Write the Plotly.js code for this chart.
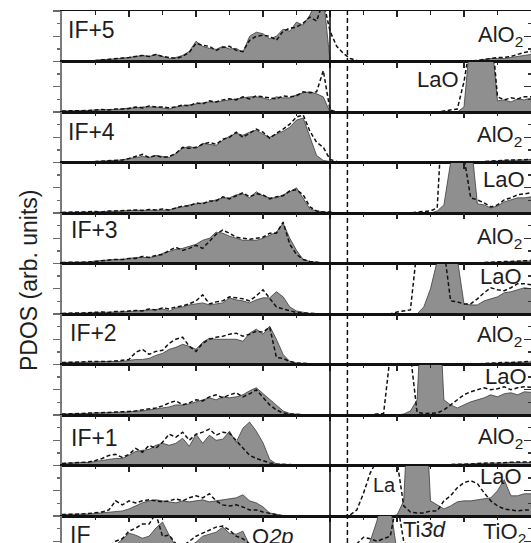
<!DOCTYPE html>
<html>
<head>
<meta charset="utf-8">
<script src="https://cdn.plot.ly/plotly-3.0.1.min.js"></script>
<style>
html,body{margin:0;padding:0;background:#fff;overflow:hidden}
#chart{width:531px;height:543px}
</style>
</head>
<body>
<div id="chart"></div>
<script>
// Energy grid in eV relative to the Fermi level
const energy = [-8.0,-7.8,-7.6,-7.4,-7.2,-7.0,-6.8,-6.6,-6.4,-6.2,
  -6.0,-5.8,-5.6,-5.4,-5.2,-5.0,-4.8,-4.6,-4.4,-4.2,
  -4.0,-3.8,-3.6,-3.4,-3.2,-3.0,-2.8,-2.6,-2.4,-2.2,
  -2.0,-1.8,-1.6,-1.4,-1.2,-1.0,-0.8,-0.6,-0.4,-0.2,
  0.0,0.2,0.4,0.6,0.8,1.0,1.2,1.4,1.6,1.8,
  2.0,2.2,2.4,2.6,2.8,3.0,3.2,3.4,3.6,3.8,
  4.0,4.2,4.4,4.6,4.8,5.0,5.2,5.4,5.6,5.8,
  6.0];

// Layer-resolved PDOS (arb. units): shaded = interface, dashed = reference
const fillA5 = [0,0,0,0,0,0.02,0.04,0.04,0.05,0.06,
  0.08,0.1,0.12,0.1,0.14,0.1,0.06,0.08,0.12,0.2,
  0.4,0.3,0.26,0.24,0.3,0.25,0.26,0.18,0.5,0.58,
  0.55,0.45,0.5,0.64,0.6,0.78,0.72,0.92,1.2,1.3,
  0.02,0,0,0,0,0,0,0,0,0,
  0,0,0,0,0,0,0,0,0,0,
  0,0.01,0.02,0.04,0.06,0.06,0.06,0.08,0.1,0.12,
  0.14];
const dashA5 = [0,0,0,0,0,0.02,0.03,0.05,0.05,0.06,
  0.08,0.1,0.12,0.1,0.14,0.1,0.08,0.06,0.1,0.18,
  0.36,0.32,0.3,0.22,0.28,0.3,0.22,0.2,0.42,0.5,
  0.52,0.5,0.42,0.6,0.66,0.68,0.76,0.88,0.8,1.2,
  0.6,0.3,0.16,0.06,0.02,0,0,0,0,0,
  0,0,0,0,0,0,0,0,0,0,
  0,0.01,0.02,0.04,0.06,0.08,0.08,0.1,0.14,0.18,
  0.2];

const fillL5 = [0.02,0.02,0.02,0.03,0.03,0.04,0.04,0.05,0.05,0.06,
  0.08,0.08,0.1,0.1,0.1,0.08,0.06,0.1,0.12,0.14,
  0.16,0.18,0.2,0.2,0.22,0.24,0.26,0.28,0.3,0.3,
  0.28,0.24,0.3,0.28,0.28,0.34,0.38,0.4,0.36,0.3,
  0,0,0,0,0,0,0,0,0,0,
  0,0,0,0,0,0,0,0,0,0,
  0.1,1.6,3,3,1.6,0.22,0.24,0.2,0.26,0.24,
  0.28];
const dashL5 = [0.02,0.02,0.03,0.02,0.03,0.04,0.05,0.04,0.06,0.06,
  0.07,0.1,0.08,0.12,0.1,0.1,0.08,0.1,0.14,0.12,
  0.18,0.16,0.22,0.2,0.24,0.26,0.24,0.3,0.26,0.32,
  0.3,0.28,0.26,0.32,0.3,0.32,0.4,0.38,0.4,0.82,
  0.04,0,0,0,0,0,0,0,0,0,
  0,0,0,0,0,0,0,0.02,0.04,0.06,
  0.6,1.6,3,3,1.8,0.3,0.24,0.28,0.26,0.3,
  0.3];

const fillA4 = [0,0,0,0,0,0.02,0.03,0.04,0.04,0.05,
  0.08,0.1,0.12,0.1,0.14,0.12,0.1,0.18,0.28,0.32,
  0.28,0.38,0.36,0.34,0.44,0.52,0.58,0.54,0.6,0.64,
  0.56,0.5,0.56,0.62,0.7,0.84,0.88,0.5,0.14,0.04,
  0.02,0,0,0,0,0,0,0,0,0,
  0,0,0,0,0,0,0,0,0,0,
  0,0,0,0.02,0.02,0.03,0.04,0.04,0.05,0.05,
  0.06];
const dashA4 = [0,0,0,0,0,0.02,0.03,0.03,0.05,0.05,
  0.08,0.12,0.16,0.1,0.14,0.1,0.12,0.18,0.3,0.28,
  0.3,0.36,0.4,0.36,0.46,0.5,0.6,0.5,0.58,0.66,
  0.6,0.48,0.58,0.66,0.76,0.9,0.94,0.62,0.4,0.3,
  0.06,0.02,0,0,0,0,0,0,0,0,
  0,0,0,0,0,0,0,0,0,0,
  0,0,0,0.02,0.03,0.03,0.04,0.05,0.05,0.06,
  0.06];

const fillL4 = [0.01,0.01,0.02,0.02,0.02,0.02,0.03,0.03,0.04,0.04,
  0.05,0.05,0.06,0.06,0.06,0.06,0.06,0.1,0.12,0.16,
  0.18,0.2,0.22,0.26,0.3,0.3,0.36,0.38,0.3,0.42,
  0.34,0.3,0.3,0.36,0.42,0.5,0.3,0.08,0.04,0.02,
  0.01,0,0,0,0,0,0,0,0,0,
  0,0,0,0,0,0,0.04,0.16,1.0,3,
  3,1.5,0.18,0.16,0.1,0.14,0.22,0.26,0.3,0.3,
  0.32];
const dashL4 = [0.01,0.02,0.02,0.02,0.03,0.03,0.02,0.04,0.04,0.05,
  0.05,0.06,0.05,0.07,0.06,0.08,0.06,0.1,0.14,0.14,
  0.2,0.18,0.24,0.24,0.32,0.28,0.34,0.4,0.32,0.38,
  0.36,0.28,0.32,0.34,0.44,0.46,0.36,0.12,0.04,0.02,
  0.02,0,0,0,0,0,0,0,0,0,
  0,0,0,0.02,0.03,0.04,0.1,2.5,3,3,
  1.1,0.3,0.26,0.2,0.12,0.16,0.26,0.3,0.36,0.38,
  0.4];

const fillA3 = [0.02,0.02,0.02,0.02,0.03,0.05,0.06,0.08,0.08,0.08,
  0.1,0.12,0.12,0.12,0.14,0.2,0.24,0.28,0.3,0.34,
  0.38,0.46,0.5,0.62,0.6,0.54,0.5,0.46,0.46,0.46,
  0.5,0.56,0.62,0.8,0.5,0.26,0.08,0.04,0.02,0.01,
  0.01,0,0,0,0,0,0,0,0,0,
  0,0,0,0,0,0,0,0,0,0,
  0,0,0.01,0.02,0.02,0.03,0.03,0.04,0.04,0.05,
  0.05];
const dashA3 = [0.02,0.02,0.02,0.03,0.03,0.04,0.06,0.07,0.08,0.08,
  0.1,0.1,0.14,0.12,0.16,0.18,0.26,0.32,0.26,0.3,
  0.36,0.3,0.44,0.58,0.66,0.6,0.52,0.5,0.48,0.5,
  0.52,0.6,0.6,0.82,0.38,0.18,0.08,0.04,0.02,0.01,
  0.01,0,0,0,0,0,0,0,0,0,
  0,0,0,0,0,0,0,0,0,0,
  0,0,0.01,0.02,0.03,0.03,0.04,0.04,0.05,0.05,
  0.06];

const fillL3 = [0.01,0.01,0.02,0.02,0.02,0.03,0.03,0.03,0.04,0.04,
  0.05,0.06,0.07,0.08,0.08,0.1,0.06,0.12,0.14,0.18,
  0.2,0.22,0.18,0.2,0.22,0.32,0.28,0.26,0.22,0.28,
  0.32,0.32,0.44,0.34,0.14,0.06,0.03,0.01,0,0,
  0,0,0,0,0,0,0,0,0,0,
  0,0,0,0,0.14,0.5,1.05,3,3,1.1,
  0.2,0.18,0.18,0.26,0.3,0.34,0.42,0.44,0.48,0.52,
  0.5];
const dashL3 = [0.01,0.02,0.02,0.02,0.03,0.03,0.04,0.03,0.05,0.05,
  0.06,0.07,0.06,0.1,0.08,0.12,0.1,0.14,0.16,0.2,
  0.26,0.38,0.2,0.24,0.26,0.34,0.32,0.3,0.26,0.36,
  0.48,0.3,0.14,0.1,0.06,0.03,0.02,0.01,0,0,
  0,0,0,0,0,0,0,0,0,0,
  0.04,0.06,0.08,1.3,3,3,3,1.3,0.26,0.24,
  0.2,0.2,0.3,0.42,0.52,0.48,0.46,0.52,0.6,0.6,
  0.58];

const fillA2 = [0.04,0.04,0.05,0.05,0.05,0.05,0.06,0.06,0.06,0.06,
  0.08,0.1,0.1,0.12,0.18,0.22,0.3,0.34,0.4,0.36,
  0.3,0.44,0.52,0.5,0.5,0.5,0.5,0.46,0.62,0.7,
  0.6,0.76,0.5,0.2,0.06,0.03,0.02,0.01,0.01,0.01,
  0,0,0,0,0,0,0,0,0,0,
  0,0,0,0,0,0,0,0,0,0,
  0,0,0.01,0.02,0.02,0.03,0.03,0.04,0.04,0.05,
  0.05];
const dashA2 = [0.04,0.04,0.05,0.05,0.06,0.06,0.05,0.06,0.07,0.08,
  0.1,0.24,0.3,0.2,0.26,0.28,0.42,0.5,0.54,0.36,
  0.26,0.42,0.5,0.54,0.56,0.6,0.62,0.56,0.6,0.66,
  0.64,0.74,0.14,0.12,0.06,0.03,0.02,0.01,0.01,0.01,
  0,0,0,0,0,0,0,0,0,0,
  0,0,0,0,0,0,0,0,0,0,
  0,0,0.01,0.02,0.03,0.03,0.04,0.04,0.05,0.05,
  0.06];

const fillL2 = [0.02,0.02,0.03,0.03,0.03,0.04,0.04,0.05,0.05,0.06,
  0.06,0.08,0.08,0.1,0.12,0.14,0.16,0.2,0.2,0.22,
  0.26,0.3,0.34,0.3,0.36,0.34,0.36,0.4,0.48,0.54,
  0.42,0.3,0.18,0.08,0.03,0.01,0,0,0,0,
  0,0,0,0,0,0,0,0,0,0,
  0,0.02,0.08,0.3,3,3,3,0.3,0.2,0.14,
  0.2,0.26,0.3,0.34,0.4,0.36,0.42,0.44,0.4,0.46,
  0.45];
const dashL2 = [0.02,0.02,0.03,0.03,0.04,0.04,0.05,0.05,0.06,0.06,
  0.07,0.08,0.1,0.12,0.14,0.18,0.24,0.28,0.2,0.24,
  0.3,0.28,0.36,0.4,0.34,0.4,0.44,0.36,0.42,0.5,
  0.36,0.2,0.1,0.04,0.02,0.01,0,0,0,0,
  0,0,0,0,0,0,0,0.02,0.03,1.2,
  3,3,1.2,0.05,0.03,0.03,0.04,0.1,0.2,0.3,
  0.4,0.46,0.5,0.54,0.5,0.52,0.56,0.5,0.54,0.56,
  0.55];

const fillA1 = [0.04,0.05,0.05,0.06,0.06,0.08,0.1,0.12,0.14,0.14,
  0.2,0.28,0.3,0.32,0.4,0.44,0.4,0.44,0.54,0.38,
  0.62,0.44,0.6,0.5,0.52,0.68,0.46,0.74,0.86,0.68,
  0.45,0.12,0.03,0.02,0.01,0.01,0.01,0.01,0.01,0.01,
  0,0,0,0,0,0,0,0,0,0,
  0,0,0,0,0,0,0,0,0.02,0.02,
  0.03,0.03,0.04,0.04,0.05,0.05,0.05,0.06,0.06,0.06,
  0.06];
const dashA1 = [0.04,0.05,0.06,0.06,0.07,0.1,0.14,0.2,0.22,0.16,
  0.22,0.34,0.26,0.4,0.34,0.46,0.62,0.56,0.66,0.5,
  0.62,0.66,0.72,0.6,0.66,0.64,0.5,0.36,0.2,0.14,
  0.1,0.05,0.03,0.02,0.01,0.01,0.01,0.01,0.01,0.01,
  0,0,0,0,0,0,0,0,0,0,
  0,0,0,0,0,0,0,0,0.02,0.02,
  0.03,0.03,0.04,0.05,0.05,0.05,0.06,0.06,0.07,0.07,
  0.07];

const fillL1 = [0.03,0.03,0.04,0.04,0.04,0.05,0.06,0.07,0.08,0.1,
  0.14,0.2,0.26,0.3,0.32,0.3,0.28,0.26,0.3,0.28,
  0.3,0.32,0.28,0.3,0.32,0.34,0.36,0.42,0.3,0.26,
  0.18,0.06,0.03,0.01,0,0,0,0,0,0,
  0,0,0,0,0,0,0,0,0,0,
  0.02,0.3,3,3,3,0.3,0.22,0.14,0.2,0.28,
  0.3,0.3,0.32,0.34,0.36,0.5,0.72,0.4,0.4,0.44,
  0.44];
const dashL1 = [0.03,0.03,0.04,0.04,0.05,0.06,0.08,0.12,0.3,0.22,
  0.3,0.26,0.3,0.32,0.3,0.28,0.3,0.34,0.3,0.36,
  0.4,0.36,0.44,0.3,0.22,0.2,0.22,0.18,0.12,0.12,
  0.08,0.05,0.02,0,0,0,0,0,0,0,
  0,0,0,0.02,0.12,0.45,0.85,1.1,1.2,1.2,
  1.1,0.2,0.08,0.06,0.06,0.1,0.1,0.3,0.4,0.56,
  0.66,0.7,0.64,0.46,0.3,0.2,0.14,0.12,0.1,0.12,
  0.12];

const fillT0 = [0.1,0.1,0.12,0.14,0.16,0.2,0.2,0.3,0.42,0.52,
  0.66,0.62,0.56,0.6,0.76,0.88,0.62,0.4,0.35,0.4,
  0.48,0.6,0.64,0.68,0.78,0.66,0.64,0.7,0.42,0.36,
  0.32,0.3,0.28,0.26,0.24,0.2,0.15,0.1,0.05,0.02,
  0,0,0,0,0.1,0.3,0.5,0.9,1.5,1.2,
  0.3,0.25,0.2,0.2,0.2,0.2,0.2,0.2,0.2,0.2,
  0.2,0.25,0.3,0.3,0.3,0.3,0.3,0.3,0.3,0.3,
  0.3];
const dashT0 = [0.1,0.1,0.12,0.14,0.16,0.2,0.3,0.4,0.5,0.55,
  0.7,0.76,0.84,0.84,1.05,0.6,0.62,0.45,0.4,0.5,
  0.6,0.66,0.72,0.78,0.8,0.72,0.6,0.55,0.45,0.4,
  0.36,0.32,0.3,0.28,0.25,0.2,0.15,0.1,0.05,0.02,
  0.02,0.02,0.05,0.2,0.45,0.58,0.55,0.5,0.55,0.6,
  1.3,0.5,0.3,0.25,0.2,0.2,0.2,0.2,0.2,0.2,
  0.2,0.2,0.25,0.3,0.3,0.3,0.3,0.3,0.3,0.3,
  0.3];

// Stacking order, top to bottom
const stack = [
  [fillA5, dashA5], [fillL5, dashL5],
  [fillA4, dashA4], [fillL4, dashL4],
  [fillA3, dashA3], [fillL3, dashL3],
  [fillA2, dashA2], [fillL2, dashL2],
  [fillA1, dashA1], [fillL1, dashL1],
  [fillT0, dashT0]
];

const FONT = '"Liberation Sans", Arial, Helvetica, sans-serif';
const W = 531, H = 543, ML = 62, MT = 11;
const plotW = W - ML, plotH = H - MT;
const PANEL = 50.5;
const px = x => (x - ML) / plotW;
const py = y => (H - y) / plotH;

const data = [];
const layout = {
  width: W, height: H,
  margin: {l: ML, r: 0, t: MT, b: 0, pad: 0},
  paper_bgcolor: '#fff', plot_bgcolor: 'rgba(0,0,0,0)',
  showlegend: false,
  annotations: [], shapes: []
};

stack.forEach(([fillV, dashV], k) => {
  const n = k + 1, sfx = n === 1 ? '' : String(n);
  const topPx = MT + PANEL * k;
  const botPx = k === stack.length - 1 ? H : topPx + PANEL;
  const yRange = k === stack.length - 1 ? [1 - (H - topPx) / PANEL, 1] : [0, 1];
  const domain = [py(botPx), py(topPx)];

  data.push({
    x: energy, y: fillV, type: 'scatter', mode: 'lines',
    xaxis: 'x' + sfx, yaxis: 'y' + sfx,
    fill: 'tozeroy', fillcolor: '#8f8f8f',
    line: {color: '#3c3c3c', width: 0.8}, hoverinfo: 'skip'
  });
  data.push({
    x: energy, y: dashV, type: 'scatter', mode: 'lines',
    xaxis: 'x' + sfx, yaxis: 'y' + sfx,
    line: {color: '#111', width: 1.5, dash: '4px,2.5px'}, hoverinfo: 'skip'
  });
  // empty trace carrying the right-hand tick axis
  data.push({x: [], y: [], type: 'scatter', mode: 'lines',
    xaxis: 'x' + sfx, yaxis: 'y' + (n + 11), hoverinfo: 'skip'});

  layout['xaxis' + sfx] = {
    domain: [0, 1], range: [-8, 6], anchor: 'y' + sfx, side: 'top',
    showline: true, mirror: k !== stack.length - 1, linecolor: '#111', linewidth: 1.5,
    ticks: 'inside', ticklen: 6, tickwidth: 1.2, tickcolor: '#222',
    tick0: 0, dtick: 2, showticklabels: false, showgrid: false, zeroline: false,
    minor: {dtick: 1, ticks: 'inside', ticklen: 3.5, tickwidth: 1.2, tickcolor: '#222', showgrid: false},
    fixedrange: true
  };
  layout['yaxis' + sfx] = {
    domain: domain, range: yRange, anchor: 'x' + sfx,
    showline: true, linecolor: '#7a7a7a', linewidth: 2,
    ticks: 'outside', ticklen: 7, tickwidth: 1.3, tickcolor: '#6a6a6a',
    tick0: 0, dtick: 0.5, showticklabels: false, showgrid: false, zeroline: false,
    minor: {dtick: 0.25, ticks: 'outside', ticklen: 3.5, tickwidth: 1.3, tickcolor: '#6a6a6a', showgrid: false},
    fixedrange: true
  };
  layout['yaxis' + (n + 11)] = {
    overlaying: 'y' + sfx, side: 'right', anchor: 'x' + sfx, range: yRange,
    showline: false, ticks: 'inside', ticklen: 7, tickwidth: 1.3, tickcolor: '#333',
    tick0: 0, dtick: 0.5, showticklabels: false, showgrid: false, zeroline: false,
    minor: {dtick: 0.25, ticks: 'inside', ticklen: 3.5, tickwidth: 1.3, tickcolor: '#333', showgrid: false},
    fixedrange: true
  };
});

// Fermi level and reference level
layout.shapes.push({type: 'line', xref: 'x', yref: 'paper', x0: 0, x1: 0, y0: 0, y1: 1,
  line: {color: '#111', width: 1.6}, layer: 'above'});
layout.shapes.push({type: 'line', xref: 'x', yref: 'paper', x0: 0.52, x1: 0.52, y0: 0, y1: 1,
  line: {color: '#111', width: 1.5, dash: '5px,3px'}, layer: 'above'});

// Layer labels: [text, ink-left px, cap-top px, size]
const labels = [
  ['IF+5', 68, 20, 23], ['IF+4', 68, 122, 23], ['IF+3', 71, 220, 23],
  ['IF+2', 70, 323, 23], ['IF+1', 71, 428, 23], ['IF', 70, 525, 23],
  ['AlO<sub>2</sub>', 478, 25, 22], ['AlO<sub>2</sub>', 477, 125, 22],
  ['AlO<sub>2</sub>', 477, 227, 22], ['AlO<sub>2</sub>', 477, 325, 22],
  ['AlO<sub>2</sub>', 478, 427, 22],
  ['LaO', 417, 70, 22], ['LaO', 483, 170, 22], ['LaO', 480, 267, 22],
  ['LaO', 485, 367, 22], ['LaO', 480, 467, 22],
  ['La', 373, 477, 20],
  ['O<i>2p</i>', 252, 527, 22], ['Ti<i>3d</i>', 403, 520, 22], ['TiO<sub>2</sub>', 483, 522, 22]
];
labels.forEach(([t, x, top, size]) => {
  layout.annotations.push({
    text: t, xref: 'paper', yref: 'paper',
    x: px(x - 2.5), y: py(top - 0.19 * size - 1),
    xanchor: 'left', yanchor: 'top', showarrow: false,
    font: {family: FONT, size: size, color: '#1e1e1e'}
  });
});

layout.annotations.push({
  text: 'PDOS (arb. units)', xref: 'paper', yref: 'paper',
  x: px(29), y: py(280), xanchor: 'center', yanchor: 'middle',
  textangle: -90, showarrow: false,
  font: {family: FONT, size: 23, color: '#1e1e1e'}
});

Plotly.newPlot('chart', data, layout, {staticPlot: true, displayModeBar: false});
</script>
</body>
</html>
